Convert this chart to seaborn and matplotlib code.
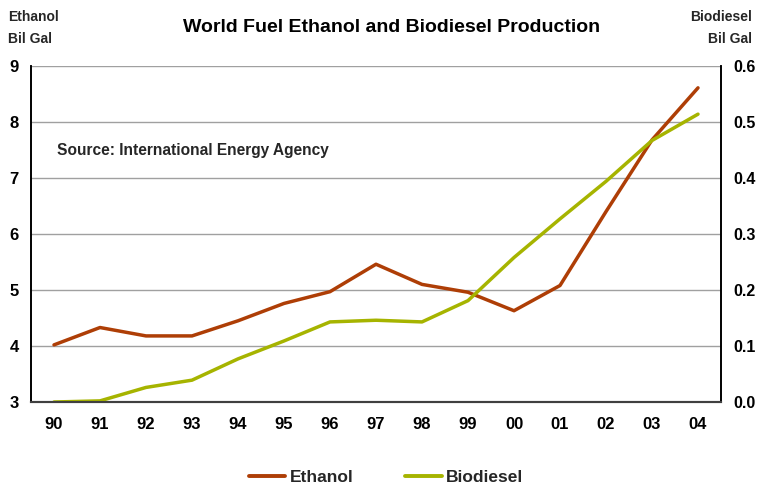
import matplotlib
matplotlib.use("Agg")
import matplotlib.pyplot as plt
import seaborn as sns
import numpy as np
from matplotlib.lines import Line2D

years = ["90", "91", "92", "93", "94", "95", "96", "97", "98", "99", "00", "01", "02", "03", "04"]
ethanol = [4.02, 4.33, 4.18, 4.18, 4.45, 4.76, 4.97, 5.46, 5.10, 4.96, 4.63, 5.08, 6.40, 7.68, 8.61]
biodiesel = [0.000, 0.002, 0.026, 0.039, 0.077, 0.109, 0.143, 0.146, 0.143, 0.181, 0.258, 0.327, 0.394, 0.467, 0.514]

sns.set_theme(style="white")
plt.rcParams['font.family'] = ['Liberation Sans', 'DejaVu Sans']

eth_color = "#AE3E06"
bio_color = "#A6B400"

fig = plt.figure(figsize=(7.59, 4.86), dpi=100)
ax = fig.add_axes([31/759, 1-402/486, 690/759, 336/486])
idx = np.arange(len(years))

sns.lineplot(x=idx, y=ethanol, ax=ax, color=eth_color, linewidth=2.5)
ax2 = ax.twinx()
sns.lineplot(x=idx, y=biodiesel, ax=ax2, color=bio_color, linewidth=2.5)

ax.set_xlim(-0.5, len(years)-0.5)
ax.set_ylim(3, 9)
ax2.set_ylim(0, 0.6)
ax.set_yticks(range(3, 10))
ax2.set_yticks([0.0, 0.1, 0.2, 0.3, 0.4, 0.5, 0.6])
ax2.set_yticklabels([f"{v:.1f}" for v in [0.0, 0.1, 0.2, 0.3, 0.4, 0.5, 0.6]])
ax.set_xticks(idx)
ax.set_xticklabels(years)

for a in (ax, ax2):
    a.tick_params(length=0, labelsize=12, colors="black")
    for lbl in a.get_xticklabels() + a.get_yticklabels():
        lbl.set_fontweight("bold")
ax2.tick_params(axis='y', labelsize=11.5)
ax.tick_params(axis='x', pad=11)
ax.tick_params(axis='y', pad=9)
ax2.tick_params(axis='y', pad=9)

ax.grid(axis='y', color="#A0A0A0", linewidth=1)
ax.set_axisbelow(True)
ax2.grid(False)

for a in (ax, ax2):
    a.spines['top'].set_visible(False)
    a.spines['left'].set_color("black")
    a.spines['right'].set_color("black")
    a.spines['bottom'].set_color("#404040")
    a.spines['left'].set_linewidth(1.2)
    a.spines['right'].set_linewidth(1.2)
    a.spines['bottom'].set_linewidth(1.5)
ax.set_xlabel("")
ax.set_ylabel("")
ax2.set_ylabel("")

fig.text(392/759, 1-28/486, "World Fuel Ethanol and Biodiesel Production",
         ha="center", va="center", fontsize=14, fontweight="bold", color="black")
fig.text(8/759, 1-28/486, "Ethanol\nBil Gal", ha="left", va="center",
         fontsize=10, fontweight="bold", linespacing=1.75)
fig.text(752/759, 1-28/486, "Biodiesel\nBil Gal", ha="right", va="center",
         fontsize=10, fontweight="bold", linespacing=1.75, multialignment="right")
ax.text(57/759, 1-150/486, "Source: International Energy Agency", transform=fig.transFigure,
        ha="left", va="center", fontsize=11.2, fontweight="bold")

handles = [Line2D([0], [0], color=eth_color, lw=2.8), Line2D([0], [0], color=bio_color, lw=2.8)]
fig.legend(handles, ["Ethanol", "Biodiesel"], loc="center", bbox_to_anchor=(386/759, 1-477/486),
           ncol=2, frameon=False, prop={'weight': 'bold', 'size': 12.5}, handlelength=2.1,
           handletextpad=0.25, columnspacing=3.0)

fig.savefig("out.png", dpi=100)
